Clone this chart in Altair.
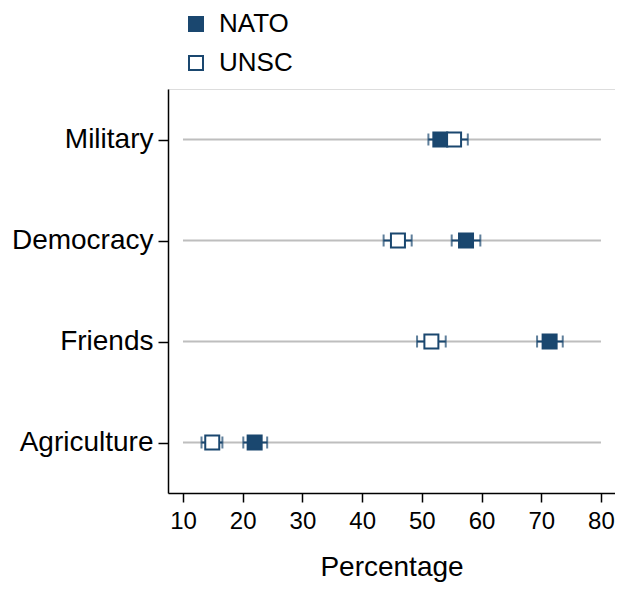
import altair as alt
import pandas as pd

categories = ["Military", "Democracy", "Friends", "Agriculture"]
nato_est = [53.1, 57.4, 71.4, 22.0]
nato_lo = [51.1, 55.0, 69.3, 20.1]
nato_hi = [55.1, 59.8, 73.6, 24.1]
unsc_est = [55.4, 46.0, 51.6, 14.9]
unsc_lo = [53.1, 43.6, 49.2, 13.1]
unsc_hi = [57.7, 48.3, 54.0, 16.6]
series = ["NATO", "UNSC"]
x_ticks = [10, 20, 30, 40, 50, 60, 70, 80]

rows = []
for name, est, lo, hi in [("NATO", nato_est, nato_lo, nato_hi), ("UNSC", unsc_est, unsc_lo, unsc_hi)]:
    for c, e, l, h in zip(categories, est, lo, hi):
        rows.append({"cat": c, "series": name, "est": e, "lo": l, "hi": h})
df = pd.DataFrame(rows)

NAVY = "#1a476f"
FONT = "Liberation Sans"

xscale = alt.Scale(domain=[7.49, 82.35], nice=False, zero=False)
yscale = alt.Scale(type="point", domain=categories, padding=0.5)

xaxis = alt.Axis(title="Percentage", values=x_ticks, grid=False, labelFontSize=24,
                 titleFontSize=28, titleFontWeight="normal", labelColor="black",
                 titleColor="black", domainColor="black", tickColor="black",
                 domainWidth=1.5, tickWidth=1.5, tickSize=9, labelPadding=7,
                 titlePadding=20, labelFont=FONT, titleFont=FONT, labelFlush=False)
yaxis = alt.Axis(title=None, grid=False, labelFontSize=28, labelColor="black",
                 domainColor="black", tickColor="black", domainWidth=1.5, tickWidth=1.5,
                 tickSize=10, labelPadding=5, labelFont=FONT)

base = alt.Chart(df)

grid = alt.Chart(pd.DataFrame({"cat": categories})).mark_rule(color="#bebebe", strokeWidth=2).encode(
    y=alt.Y("cat:N", scale=yscale, axis=yaxis, sort=categories),
    x=alt.datum(10, scale=xscale, axis=xaxis),
    x2=alt.datum(80),
)

bars = base.mark_rule(color=NAVY, strokeWidth=2).encode(
    y=alt.Y("cat:N", scale=yscale, sort=categories),
    x=alt.X("lo:Q", scale=xscale),
    x2="hi:Q",
)
cap_lo = base.mark_tick(color=NAVY, thickness=2, size=12, orient="vertical").encode(
    y=alt.Y("cat:N", scale=yscale, sort=categories),
    x=alt.X("lo:Q", scale=xscale),
)
cap_hi = base.mark_tick(color=NAVY, thickness=2, size=12, orient="vertical").encode(
    y=alt.Y("cat:N", scale=yscale, sort=categories),
    x=alt.X("hi:Q", scale=xscale),
)
squares = base.mark_square(size=196, stroke=NAVY, strokeWidth=2, opacity=1, filled=True).encode(
    y=alt.Y("cat:N", scale=yscale, sort=categories),
    x=alt.X("est:Q", scale=xscale),
    fill=alt.Fill("series:N", scale=alt.Scale(domain=series, range=[NAVY, "white"]),
                  legend=alt.Legend(title=None, orient="none", legendX=15, legendY=-78,
                                    labelFontSize=26, labelFont=FONT, labelColor="black",
                                    symbolType="square", symbolSize=196,
                                    symbolStrokeColor=NAVY, symbolStrokeWidth=2,
                                    rowPadding=13, labelOffset=10, padding=0)),
)

chart = alt.layer(grid, bars, cap_lo, cap_hi, squares).properties(
    width=447, height=404,
    padding={"left": 160, "top": 81, "right": 0, "bottom": 92},
    autosize=alt.AutoSizeParams(type="none"),
).configure_view(stroke=None).configure(font=FONT)

chart.save("out.html", embed_options={"renderer": "svg", "actions": False})
